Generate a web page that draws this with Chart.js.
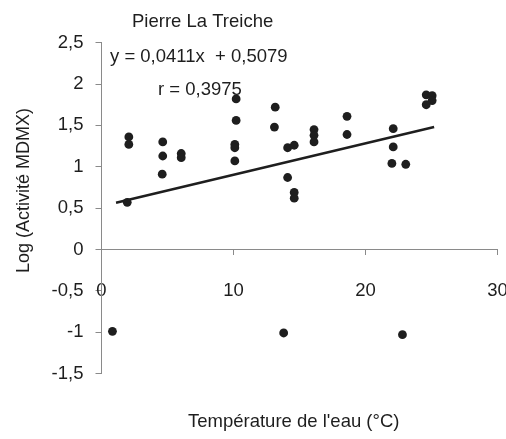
<!DOCTYPE html>
<html>
<head>
<meta charset="utf-8">
<script src="https://cdn.jsdelivr.net/npm/chart.js@4/dist/chart.umd.min.js"></script>
<style>
  html, body { margin: 0; background: #fff; }
  #conteneur { width: 506px; height: 439px; }
</style>
</head>
<body>
<div id="conteneur"><canvas id="grafico"></canvas></div>
<script>
// valeurs
const temperatures = [0.83, 2.07, 2.07, 1.95, 4.64, 4.64, 4.6, 6.04, 6.04,
  10.2, 10.2, 10.1, 10.1, 10.1, 13.16, 13.1, 14.1, 14.6, 14.1, 14.6, 14.6,
  16.1, 16.1, 16.1, 18.6, 18.6, 22.1, 22.1, 22.0, 23.05, 24.6, 25.05, 25.05, 24.6,
  13.8, 22.8];
const logActivite = [-0.99, 1.36, 1.27, 0.57, 1.30, 1.13, 0.91, 1.16, 1.11,
  1.82, 1.56, 1.27, 1.23, 1.07, 1.72, 1.48, 1.23, 1.26, 0.87, 0.69, 0.62,
  1.45, 1.38, 1.30, 1.61, 1.39, 1.46, 1.24, 1.04, 1.03, 1.87, 1.86, 1.80, 1.75,
  -1.01, -1.03];

// extrémités de la droite de régression
const droiteX = [1.1, 25.2];
const droiteY = [0.565, 1.48];

const ticksX = [0, 10, 20, 30];
const ticksY = [-1.5, -1, -0.5, 0, 0.5, 1, 1.5, 2, 2.5];

const titre = 'Pierre La Treiche';
const equation = 'y = 0,0411x  + 0,5079';
const coefR = 'r = 0,3975';
const titreX = "Température de l'eau (°C)";
const titreY = 'Log (Activité MDMX)';

const POLICE = '"Liberation Sans", Arial, sans-serif';
const ENCRE = '#1e1e1e';
const GRIS = '#8a8a8a';

const virgule = v => String(v).replace('.', ',');

const textesLibres = {
  id: 'textesLibres',
  afterDraw(chart) {
    const ctx = chart.ctx;
    ctx.save();
    ctx.fillStyle = ENCRE;
    ctx.textBaseline = 'alphabetic';
    ctx.textAlign = 'left';
    ctx.font = '18.5px ' + POLICE;
    ctx.fillText(titre, 132, 27);
    ctx.fillText(equation, 110, 61.5);
    ctx.fillText(coefR, 158, 95);
    ctx.fillText(titreX, 188, 427);
    ctx.translate(28.5, 190.5);
    ctx.rotate(-Math.PI / 2);
    ctx.textAlign = 'center';
    ctx.font = '18px ' + POLICE;
    ctx.fillText(titreY, 0, 0);
    ctx.restore();
  }
};

const points = temperatures.map((t, i) => ({ x: t, y: logActivite[i] }));
const droite = droiteX.map((t, i) => ({ x: t, y: droiteY[i] }));

new Chart(document.getElementById('grafico'), {
  type: 'scatter',
  data: {
    datasets: [
      {
        data: points,
        backgroundColor: ENCRE,
        borderColor: ENCRE,
        pointRadius: 4.4,
        pointBorderWidth: 0
      },
      {
        type: 'line',
        data: droite,
        borderColor: ENCRE,
        borderWidth: 2.5,
        pointRadius: 0,
        fill: false
      }
    ]
  },
  options: {
    responsive: true,
    maintainAspectRatio: false,
    animation: false,
    layout: { padding: { left: 0, top: 42.7, right: 8.5, bottom: 65.5 } },
    plugins: {
      legend: { display: false },
      tooltip: { enabled: false }
    },
    scales: {
      x: {
        type: 'linear',
        min: 0,
        max: 30,
        position: { y: 0 },
        afterBuildTicks: s => { s.ticks = ticksX.map(v => ({ value: v })); },
        afterFit: s => { s.paddingLeft = 0; s.paddingRight = 0; },
        grid: { drawOnChartArea: false, drawTicks: true, tickLength: 5, color: GRIS },
        border: { display: true, color: GRIS, width: 1 },
        ticks: {
          padding: 25,
          maxRotation: 0,
          color: ENCRE,
          font: { family: POLICE, size: 18.5 },
          callback: v => virgule(v)
        }
      },
      y: {
        type: 'linear',
        min: -1.5,
        max: 2.5,
        position: 'left',
        afterBuildTicks: s => { s.ticks = ticksY.map(v => ({ value: v })); },
        afterFit: s => { s.width = 101.5; },
        grid: { drawOnChartArea: false, drawTicks: true, tickLength: 6, color: GRIS },
        border: { display: true, color: GRIS, width: 1 },
        ticks: {
          padding: 12,
          color: ENCRE,
          font: { family: POLICE, size: 18.5 },
          callback: v => virgule(v)
        }
      }
    }
  },
  plugins: [textesLibres]
});
</script>
</body>
</html>
